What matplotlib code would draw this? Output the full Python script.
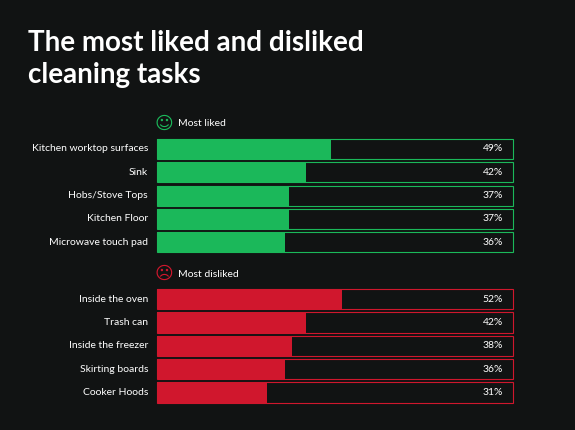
import matplotlib
matplotlib.use("Agg")
from matplotlib import pyplot as plt

liked_tasks = ['Kitchen worktop surfaces', 'Sink', 'Hobs/Stove Tops', 'Kitchen Floor', 'Microwave touch pad']
liked_pct = [49, 42, 37, 37, 36]
disliked_tasks = ['Inside the oven', 'Trash can', 'Inside the freezer', 'Skirting boards', 'Cooker Hoods']
disliked_pct = [52, 42, 38, 36, 31]

bg = '#111313'
green = '#1bb85a'
red = '#d0172d'

plt.rcParams['font.family'] = ['Lato', 'DejaVu Sans']
fig = plt.figure(figsize=(5.75, 4.30), dpi=100, facecolor=bg)
ax = fig.add_axes([0.273, 0.046, 0.619, 0.689])
ax.set_facecolor(bg)

liked_y = [0, 1, 2, 3, 4]
disliked_y = [6.44 + i for i in range(5)]

for ys, tasks, vals, col in [(liked_y, liked_tasks, liked_pct, green),
                             (disliked_y, disliked_tasks, disliked_pct, red)]:
    outl = ax.barh(ys, [100] * len(ys), height=0.86, facecolor='none', edgecolor=col, linewidth=0.8)
    for p in outl:
        p.set_clip_on(False)
    ax.barh(ys, vals, height=0.86, color=col)
    for y, t, v in zip(ys, tasks, vals):
        ax.text(-2.5, y, t, ha='right', va='center', color='white', fontsize=7.5)
        ax.text(97.3, y, f'{v}%', ha='right', va='center', color='white', fontsize=7.5)

ax.text(2, -1.07, '\u263a', ha='center', va='center', color=green, fontsize=13, family='DejaVu Sans')
ax.text(5.9, -1.07, 'Most liked', ha='left', va='center', color='white', fontsize=7.5)
ax.text(2, 5.37, '\u2639', ha='center', va='center', color=red, fontsize=13, family='DejaVu Sans')
ax.text(5.9, 5.37, 'Most disliked', ha='left', va='center', color='white', fontsize=7.5)

ax.set_xlim(0, 100)
ax.set_ylim(11.2, -1.5)
ax.axis('off')

fig.text(0.049, 0.863, 'The most liked and disliked\ncleaning tasks', color='white',
         fontsize=20, fontweight='bold', ha='left', va='center', linespacing=1.3)

fig.savefig('out.png', dpi=100, facecolor=bg)
